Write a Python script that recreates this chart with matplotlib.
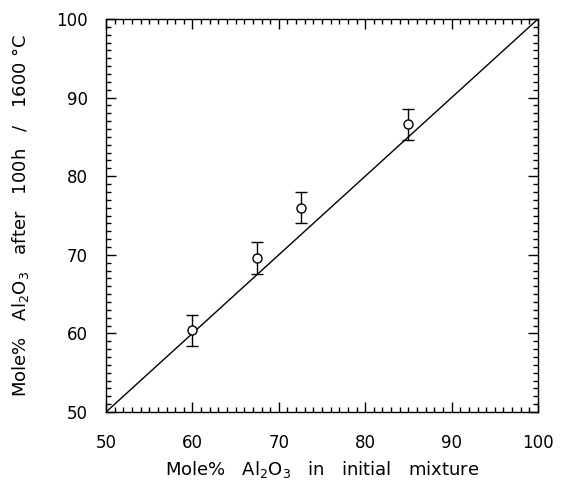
import matplotlib
matplotlib.use("Agg")
import matplotlib.pyplot as plt
from matplotlib.ticker import MultipleLocator

# initial Al2O3 vs Al2O3 after 100 h at 1600 C
x_init = [60.0, 67.5, 72.6, 85.0]
y_after = [60.4, 69.6, 76.0, 86.6]
y_err = [2.0, 2.0, 2.0, 2.0]
diag = [50, 100]

plt.rcParams["font.family"] = ["DejaVu Sans"]

fig = plt.figure(figsize=(5.61, 5.0), dpi=100)
ax = fig.add_axes([0.189, 0.176, 0.770, 0.786])

ax.plot(diag, diag, color="black", lw=1.0)
ax.errorbar(x_init, y_after, yerr=y_err, fmt="o", ms=6.5, mfc="white", mec="black",
            mew=1.0, ecolor="black", elinewidth=1.0, capsize=4, capthick=1.0, zorder=3)

ax.set_xlim(50, 100)
ax.set_ylim(50, 100)
ax.xaxis.set_major_locator(MultipleLocator(10))
ax.yaxis.set_major_locator(MultipleLocator(10))
ax.xaxis.set_minor_locator(MultipleLocator(1))
ax.yaxis.set_minor_locator(MultipleLocator(1))
ax.tick_params(which="both", direction="in", top=True, right=True, width=1.0, labelsize=12)
ax.tick_params(which="major", length=7)
ax.tick_params(which="minor", length=3.5)
ax.tick_params(axis="x", which="major", pad=16)
ax.tick_params(axis="y", which="major", pad=13)
for s in ax.spines.values():
    s.set_linewidth(1.0)

ax.set_xlabel(r"Mole%   Al$_2$O$_3$   in   initial   mixture", fontsize=13, labelpad=5)
ax.set_ylabel(r"Mole%   Al$_2$O$_3$   after   100h   /   1600 °C", fontsize=13, labelpad=18)

fig.savefig("out.png", dpi=100)
